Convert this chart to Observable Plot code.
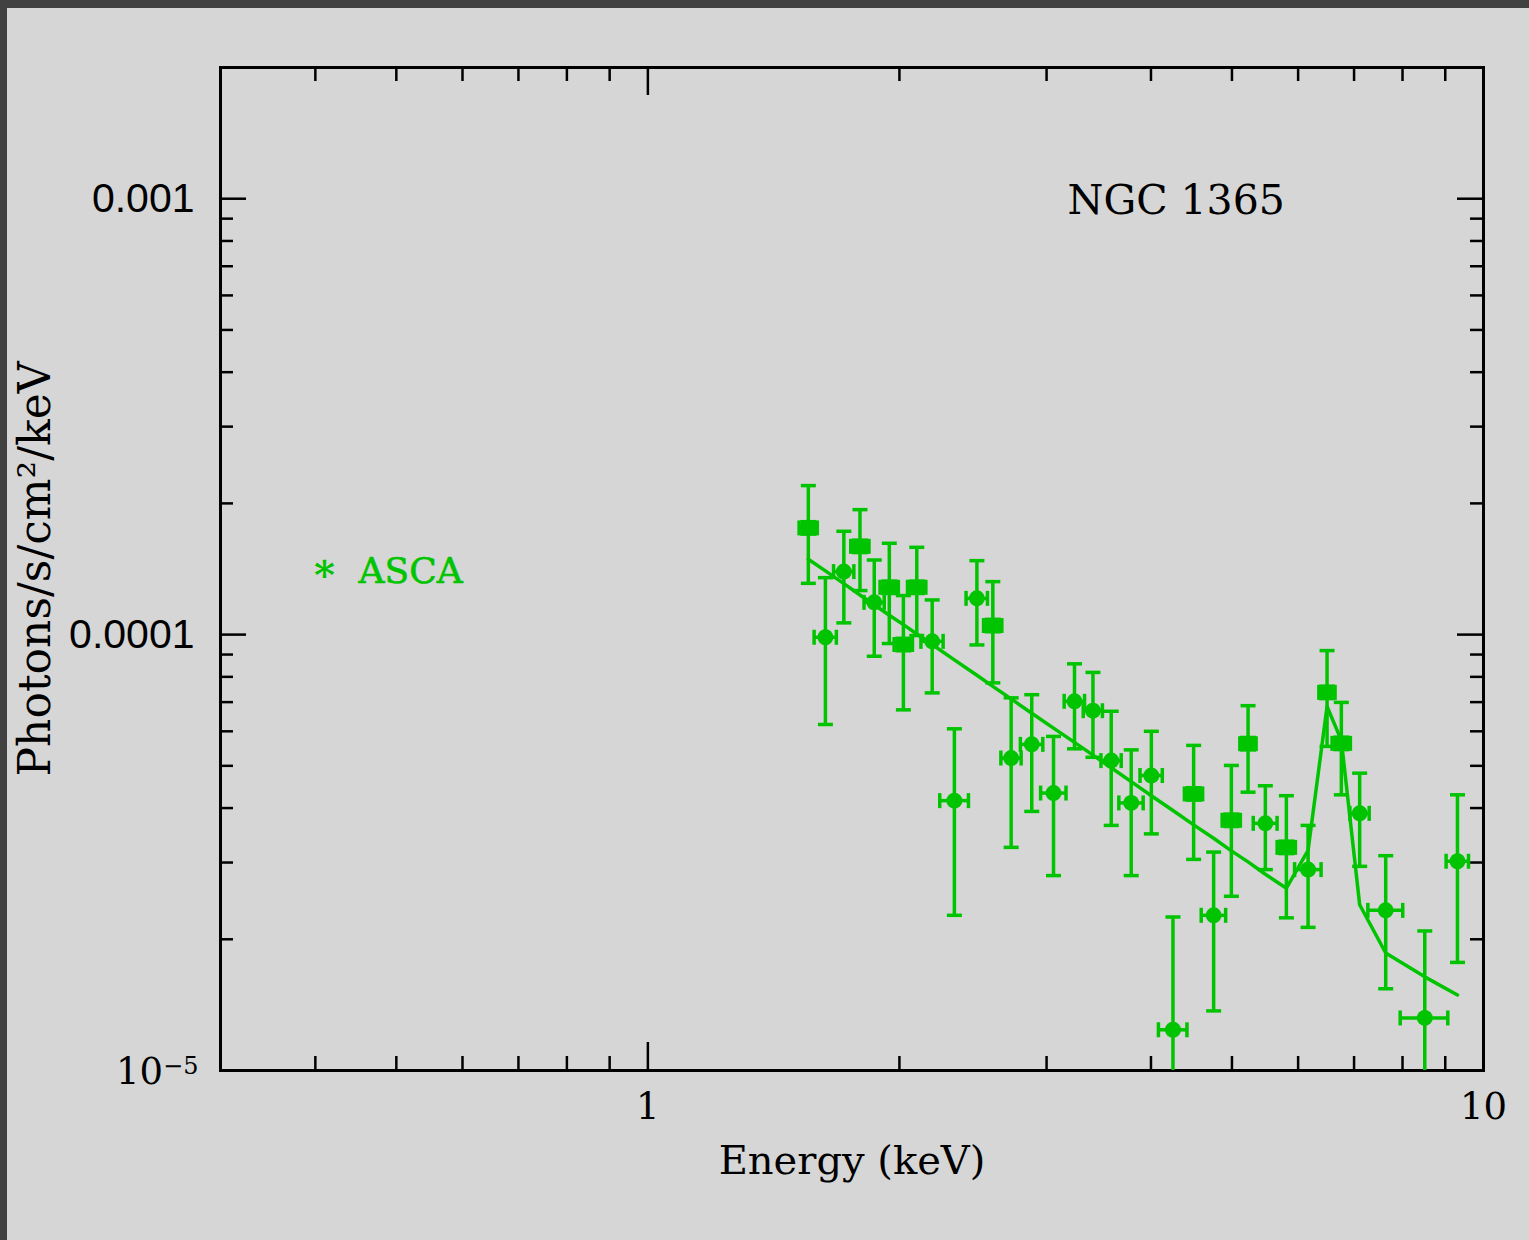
<!DOCTYPE html>
<html><head><meta charset="utf-8">
<script src="https://cdn.jsdelivr.net/npm/d3@7"></script>
<script src="https://cdn.jsdelivr.net/npm/@observablehq/plot@0.6"></script>
<style>
html,body{margin:0;padding:0;background:#d6d6d6;}
#page{position:relative;width:1529px;height:1240px;background:#d6d6d6;overflow:hidden;}
#bt{position:absolute;left:0;top:0;width:1529px;height:8px;background:#414141;}
#bl{position:absolute;left:0;top:0;width:7px;height:1240px;background:#414141;}
#chart{position:absolute;left:0;top:0;}
</style></head><body>
<div id="page"><div id="chart"></div><div id="bt"></div><div id="bl"></div></div>
<script>
// ---- data ----
const energy    = [1.556, 1.631, 1.716, 1.794, 1.866, 1.945, 2.022, 2.098, 2.189, 2.327, 2.476, 2.587, 2.721, 2.880, 3.058, 3.240, 3.409, 3.585, 3.788, 4.004, 4.250, 4.499, 4.754, 4.992, 5.227, 5.482, 5.809, 6.167, 6.498, 6.759, 7.109, 7.638, 8.506, 9.308];
const energyErr = [0.039, 0.050, 0.048, 0.045, 0.052, 0.049, 0.051, 0.053, 0.067, 0.092, 0.073, 0.065, 0.076, 0.089, 0.107, 0.091, 0.090, 0.100, 0.127, 0.123, 0.167, 0.113, 0.160, 0.125, 0.117, 0.180, 0.146, 0.225, 0.145, 0.170, 0.189, 0.367, 0.557, 0.287];
const flux   = [1.757e-4, 0.986e-4, 1.395e-4, 1.594e-4, 1.186e-4, 1.284e-4, 0.949e-4, 1.284e-4, 0.965e-4, 0.416e-4, 1.211e-4, 1.049e-4, 0.521e-4, 0.560e-4, 0.433e-4, 0.703e-4, 0.669e-4, 0.514e-4, 0.411e-4, 0.475e-4, 0.124e-4, 0.431e-4, 0.227e-4, 0.375e-4, 0.562e-4, 0.369e-4, 0.325e-4, 0.289e-4, 0.737e-4, 0.563e-4, 0.389e-4, 0.233e-4, 0.132e-4, 0.302e-4];
const fluxHi = [2.197e-4, 1.351e-4, 1.726e-4, 1.935e-4, 1.483e-4, 1.620e-4, 1.229e-4, 1.586e-4, 1.201e-4, 0.608e-4, 1.478e-4, 1.323e-4, 0.716e-4, 0.728e-4, 0.584e-4, 0.857e-4, 0.819e-4, 0.667e-4, 0.544e-4, 0.600e-4, 0.225e-4, 0.557e-4, 0.317e-4, 0.501e-4, 0.687e-4, 0.450e-4, 0.427e-4, 0.365e-4, 0.919e-4, 0.699e-4, 0.481e-4, 0.311e-4, 0.209e-4, 0.429e-4];
const fluxLo = [1.311e-4, 0.622e-4, 1.064e-4, 1.262e-4, 0.892e-4, 0.954e-4, 0.672e-4, 0.995e-4, 0.735e-4, 0.227e-4, 0.947e-4, 0.775e-4, 0.325e-4, 0.393e-4, 0.280e-4, 0.547e-4, 0.523e-4, 0.365e-4, 0.280e-4, 0.349e-4, 0.060e-4, 0.305e-4, 0.137e-4, 0.251e-4, 0.435e-4, 0.289e-4, 0.224e-4, 0.213e-4, 0.554e-4, 0.429e-4, 0.294e-4, 0.154e-4, 0.070e-4, 0.177e-4];
const model  = [1.489e-4, 1.400e-4, 1.309e-4, 1.233e-4, 1.171e-4, 1.108e-4, 1.054e-4, 1.003e-4, 0.949e-4, 0.875e-4, 0.807e-4, 0.761e-4, 0.712e-4, 0.660e-4, 0.610e-4, 0.566e-4, 0.529e-4, 0.495e-4, 0.460e-4, 0.427e-4, 0.395e-4, 0.366e-4, 0.341e-4, 0.319e-4, 0.301e-4, 0.282e-4, 0.262e-4, 0.320e-4, 0.684e-4, 0.572e-4, 0.240e-4, 0.186e-4, 0.164e-4, 0.149e-4];

const xMajor = [1, 10];
const xMajorLabels = ["1", "10"];
const xMinor = [0.4, 0.5, 0.6, 0.7, 0.8, 0.9, 2, 3, 4, 5, 6, 7, 8, 9];
const yMajor = [1e-3, 1e-4, 1e-5];
const yMajorLabels = ["0.001", "0.0001", "10\u207B\u2075"];
const yMinor = [2e-5, 3e-5, 4e-5, 5e-5, 6e-5, 7e-5, 8e-5, 9e-5, 2e-4, 3e-4, 4e-4, 5e-4, 6e-4, 7e-4, 8e-4, 9e-4];

const xTitle = "Energy (keV)";
const yTitle = "Photons/s/cm\u00B2/keV";
const objectLabel = "NGC 1365";
const legendLabel = "ASCA";

// ---- chart ----
const green = "#00c400";
const W = 1529, H = 1240, mL = 220, mR = 46, mT = 67, mB = 170;
const fw = W - mL - mR, fh = H - mT - mB;
const pts = energy.map((e, i) => ({e, de: energyErr[i], f: flux[i], lo: fluxLo[i], hi: fluxHi[i], m: model[i]}));
const isSquare = d => d.de / d.e < 0.026;
const hcap = {draw(ctx, size) { const w = Math.sqrt(size / Math.PI); ctx.moveTo(-w, 0); ctx.lineTo(w, 0); }};
const vcap = {draw(ctx, size) { const w = Math.sqrt(size / Math.PI); ctx.moveTo(0, -w); ctx.lineTo(0, w); }};
const serif = "DejaVu Serif";
const tk = {stroke: "black", strokeWidth: 2.5};
const eb = {stroke: green, strokeWidth: 3.5, clip: true};
const txt = {lineAnchor: "middle", fontFamily: serif, fill: "black"};

const chart = Plot.plot({
  width: W, height: H,
  marginLeft: mL, marginRight: mR, marginTop: mT, marginBottom: mB,
  x: {type: "log", domain: [0.308, 10], axis: null},
  y: {type: "log", domain: [1e-5, 2e-3], axis: null},
  style: {background: "transparent", overflow: "visible"},
  marks: [
    // ticks (inward, all four sides)
    Plot.ruleX(xMinor, {x: d => d, insetTop: fh - 14, ...tk}),
    Plot.ruleX(xMinor, {x: d => d, insetBottom: fh - 14, ...tk}),
    Plot.ruleX(xMajor, {x: d => d, insetTop: fh - 28, ...tk}),
    Plot.ruleX(xMajor, {x: d => d, insetBottom: fh - 28, ...tk}),
    Plot.ruleY(yMinor, {y: d => d, insetRight: fw - 13, ...tk}),
    Plot.ruleY(yMinor, {y: d => d, insetLeft: fw - 13, ...tk}),
    Plot.ruleY(yMajor, {y: d => d, insetRight: fw - 26, ...tk}),
    Plot.ruleY(yMajor, {y: d => d, insetLeft: fw - 26, ...tk}),
    Plot.frame({stroke: "black", strokeWidth: 3}),
    // tick labels
    Plot.text(yMajor.slice(0, 2), {y: d => d, text: (d, i) => yMajorLabels[i], frameAnchor: "left", dx: -26, textAnchor: "end", ...txt, fontFamily: "Liberation Sans", fontSize: 41}),
    Plot.text(yMajor.slice(2), {y: d => d, text: (d, i) => yMajorLabels[2 + i], frameAnchor: "left", dx: -22, dy: 2, textAnchor: "end", ...txt, fontSize: 37}),
    Plot.text(xMajor, {x: d => d, text: (d, i) => xMajorLabels[i], frameAnchor: "bottom", dy: 37, textAnchor: "middle", ...txt, fontSize: 37}),
    // axis titles
    Plot.text([xTitle], {frameAnchor: "bottom", dy: 91, textAnchor: "middle", ...txt, fontSize: 40}),
    Plot.text([yTitle], {frameAnchor: "left", dx: -185, rotate: -90, textAnchor: "middle", ...txt, fontSize: 44}),
    // annotations
    Plot.text([objectLabel], {frameAnchor: "top-left", dx: 847, dy: 133, textAnchor: "start", ...txt, fontSize: 41}),
    Plot.text([legendLabel], {frameAnchor: "top-left", dx: 138, dy: 504, textAnchor: "start", ...txt, fontSize: 36, fill: green, stroke: green, strokeWidth: 0.6}),
    Plot.text(["*"], {frameAnchor: "top-left", dx: 104, dy: 509, textAnchor: "middle", ...txt, fontSize: 40, fontWeight: "bold", fill: green}),
    // error bars
    Plot.ruleX(pts, {x: "e", y1: "lo", y2: "hi", ...eb}),
    Plot.ruleY(pts, {y: "f", x1: d => d.e - d.de, x2: d => d.e + d.de, ...eb}),
    Plot.dot(pts, {x: "e", y: "hi", symbol: hcap, r: 7.5, fill: "none", ...eb}),
    Plot.dot(pts, {x: "e", y: "lo", symbol: hcap, r: 7.5, fill: "none", ...eb}),
    Plot.dot(pts, {x: d => d.e - d.de, y: "f", symbol: vcap, r: 7.5, fill: "none", ...eb}),
    Plot.dot(pts, {x: d => d.e + d.de, y: "f", symbol: vcap, r: 7.5, fill: "none", ...eb}),
    // markers
    Plot.dot(pts.filter(d => !isSquare(d)), {x: "e", y: "f", r: 8, fill: green, stroke: "none"}),
    Plot.dot(pts.filter(isSquare), {x: "e", y: "f", symbol: "square", r: 9, fill: green, stroke: "none"}),
    // model
    Plot.line(pts, {x: "e", y: "m", stroke: green, strokeWidth: 3.5, curve: "linear"})
  ]
});
// render the 10^-5 label with a proper superscript
d3.select(chart).selectAll("text").filter(function() { return this.textContent === yMajorLabels[2]; }).each(function() {
  const t = d3.select(this);
  t.text("10");
  t.append("tspan").attr("dy", "-0.45em").attr("font-size", "24").text("\u22125");
});
document.getElementById("chart").appendChild(chart);
</script>
</body></html>
